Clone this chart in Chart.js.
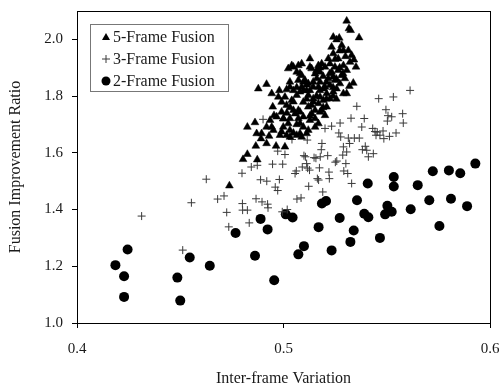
<!DOCTYPE html>
<html>
<head>
<meta charset="utf-8">
<script src="https://cdn.jsdelivr.net/npm/chart.js@4/dist/chart.umd.min.js"></script>
<style>
  html, body { margin: 0; padding: 0; background: #fff; }
  #wrap { width: 502px; height: 388px; }
</style>
</head>
<body>
<div id="wrap"><canvas id="myChart"></canvas></div>
<script>
// series names
const seriesNames = ['5-Frame Fusion', '3-Frame Fusion', '2-Frame Fusion'];

// tick labels
const xTicks = [0.4, 0.5, 0.6];
const yTicks = [1.0, 1.2, 1.4, 1.6, 1.8, 2.0];

// 5-frame fusion (triangles)
const x5 = [.4738,.4825,.4804,.4873,.4866,.4825,.4862,.4870,.4878,.4918,.4891,.4918,.4894,.4943,.4980,.4975,.5015,.4964,.5007,
  .4948,.4954,.4935,.4943,.4967,.4991,.4999,.4991,.5015,.5031,.5048,.5064,.5088,.5112,.5031,.5056,.5072,.5015,.5040,.5064,
  .5048,.5031,.5048,.5040,.5072,.5088,.5023,.5031,.5072,.5088,.5112,.5096,.5120,.5136,.5153,.5177,.5096,.5080,.5128,.5153,
  .5169,.5144,.5120,.5104,.5128,.5136,.5153,.5169,.5185,.5201,.5177,.5193,.5209,.5225,.5241,.5257,.5273,.5217,.5233,.5249,
  .5265,.5281,.5297,.5217,.5225,.5241,.5233,.5241,.5257,.5270,.5282,.5290,.5306,.5317,.5325,.5314,.5330,.5341,.5351,.5366,
  .5338,.5319,.5290,.5265,.5169,.5144,.5120,.5088,.5064,.5080,.5136,.5193,.5209,.5177,.5185,.5201,.4999,.4983,.5023,.4951,
  .4930,.4918,.4991,.5007,.5161,.5249,.5306,.5290,.5241,.5201,.5225,.5177,.5128,.5306,.5096,.5048,.5072,.5031,.5080,.5120,
  .5169,.5153,.5080,.5096,
  .5112,.5128,.5144,.5160,.5176,.5192,.5208,.5224,.5240,.5256,.5272,.5288,.5160,.5176,.5144,.5112,.5096,.5080,.5064,.5048,
  .5032,.5016,.5000,.5064,.5128,.5192,.5208,.5240,.5256,.5272,.5300,.5322,.5250];
const y5 = [1.484,1.595,1.577,1.576,1.624,1.691,1.707,1.668,1.826,1.842,1.650,1.633,1.668,1.809,1.820,1.797,1.823,1.624,1.621,
  1.762,1.732,1.715,1.691,1.727,1.744,1.691,1.674,1.662,1.680,1.670,1.662,1.656,1.668,1.721,1.738,1.750,1.768,1.785,1.803,
  1.820,1.850,1.903,1.908,1.908,1.914,1.897,1.832,1.856,1.832,1.820,1.779,1.762,1.738,1.721,1.744,1.727,1.703,1.715,1.691,
  1.774,1.791,1.803,1.856,1.932,1.897,1.879,1.908,1.914,1.903,1.850,1.826,1.809,1.791,1.815,1.826,1.844,1.862,1.885,1.903,
  1.891,1.873,1.862,1.932,1.914,1.950,1.973,2.008,1.999,2.005,1.979,1.961,2.065,2.038,2.032,1.961,1.944,1.928,1.903,2.006,
  1.846,1.835,1.908,1.932,1.832,1.832,1.844,1.873,1.885,1.815,1.768,1.785,1.762,1.797,1.750,1.732,1.721,1.662,1.703,1.680,
  1.659,1.691,1.779,1.797,1.862,1.856,1.809,1.809,1.868,1.832,1.838,1.885,1.903,1.891,1.820,1.750,1.721,1.656,1.668,1.680,
  1.703,1.750,1.744,1.691,
  1.840,1.820,1.850,1.800,1.820,1.870,1.850,1.880,1.830,1.860,1.900,1.880,1.890,1.900,1.780,1.790,1.850,1.880,1.830,1.780,
  1.760,1.740,1.720,1.700,1.730,1.760,1.790,1.800,1.790,1.960,1.940,1.920,1.930];

// 3-frame fusion (plus signs)
const x3 = [.4313,.4512,.4554,.4626,.4681,.4712,.4725,.4735,.4799,.4801,.4802,.4825,.4834,.4844,.4873,.4867,.4889,.4896,
  .4919,.4923,.4925,.4947,.4960,.4972,.4972,.4980,.4996,.4994,.5007,.5018,.5041,.5056,.5062,.5065,.5085,.5091,.5099,.5106,
  .5112,.5115,.5117,.5122,.5126,.5148,.5157,.5164,.5170,.5174,.5178,.5183,.5186,.5190,.5201,.5214,.5220,.5222,.5233,.5251,
  .5258,.5268,.5274,.5277,.5287,.5290,.5292,.5302,.5306,.5311,.5314,.5320,.5327,.5330,.5343,.5355,.5367,.5379,.5382,.5391,
  .5396,.5403,.5411,.5432,.5435,.5443,.5448,.5454,.5461,.5467,.5482,.5486,.5496,.5503,.5506,.5513,.5524,.5532,.5545,.5577,
  .5580,.5613,.4901];
const y3 = [1.377,1.257,1.424,1.507,1.437,1.448,1.390,1.339,1.528,1.421,1.398,1.398,1.353,1.550,1.556,1.438,1.505,1.427,
  1.500,1.419,1.406,1.560,1.479,1.467,1.606,1.506,1.560,1.392,1.594,1.400,1.647,1.527,1.536,1.437,1.441,1.550,1.590,1.586,
  1.562,1.645,1.546,1.482,1.539,1.583,1.581,1.509,1.504,1.547,1.586,1.611,1.633,1.462,1.686,1.590,1.532,1.509,1.694,1.567,
  1.571,1.670,1.705,1.656,1.592,1.621,1.536,1.562,1.603,1.527,1.652,1.633,1.722,1.492,1.652,1.764,1.652,1.691,1.611,1.721,
  1.623,1.609,1.586,1.686,1.597,1.675,1.662,1.673,1.791,1.662,1.677,1.650,1.752,1.712,1.731,1.658,1.727,1.797,1.670,1.738,
  1.705,1.820,1.718];

// 2-frame fusion (circles)
const x2 = [.4186,.4228,.4228,.4245,.4486,.4500,.4546,.4643,.4768,.4862,.4889,.4923,.4955,.5011,.5044,.5072,.5099,.5170,
  .5186,.5206,.5233,.5272,.5324,.5340,.5356,.5391,.5408,.5411,.5467,.5492,.5503,.5524,.5534,.5534,.5616,.5650,.5706,.5723,
  .5755,.5801,.5811,.5856,.5889,.5929];
const y2 = [1.204,1.165,1.092,1.259,1.160,1.079,1.231,1.202,1.317,1.237,1.367,1.330,1.151,1.383,1.372,1.242,1.271,1.338,
  1.421,1.430,1.256,1.370,1.286,1.326,1.433,1.385,1.492,1.373,1.300,1.383,1.413,1.392,1.515,1.481,1.401,1.486,1.433,1.535,
  1.342,1.538,1.438,1.528,1.412,1.562];

function toPoints(xs, ys){
	let pts = [];
	for(let i = 0; i < xs.length; i++){
		pts.push({x: xs[i], y: ys[i]});
	}
	return pts;
}

const FONT = "'Liberation Serif', 'Times New Roman', serif";
const TXT = '#1a1a1a';

// box around the plot area + the framed legend
const framePlugin = {
	id: 'frame',
	afterDraw(chart){
		const c = chart.ctx;
		const a = chart.chartArea;
		c.save();
		c.strokeStyle = '#000';
		c.lineWidth = 1;
		c.strokeRect(a.left + 0.5, a.top + 0.5, a.right - a.left, a.bottom - a.top);

		// legend
		const bx = 90, by = 24, bw = 138, bh = 67;
		c.fillStyle = '#fff';
		c.fillRect(bx, by, bw, bh);
		c.strokeStyle = '#777';
		c.strokeRect(bx + 0.5, by + 0.5, bw, bh);
		c.font = '16px ' + FONT;
		c.textBaseline = 'middle';
		const rows = [37, 59, 81];
		const mx = 106;
		const ds = chart.data.datasets;
		for(let i = 0; i < rows.length; i++){
			const d = ds[i];
			const my = rows[i];
			c.fillStyle = d.backgroundColor;
			c.strokeStyle = d.borderColor;
			c.lineWidth = 1;
			c.beginPath();
			if(d.pointStyle === 'triangle'){
				c.moveTo(mx, my - 4); c.lineTo(mx + 4, my + 3); c.lineTo(mx - 4, my + 3); c.closePath(); c.fill();
			}else if(d.pointStyle === 'cross'){
				c.moveTo(mx - 4, my); c.lineTo(mx + 4, my); c.moveTo(mx, my - 4); c.lineTo(mx, my + 4); c.stroke();
			}else{
				c.arc(mx, my, 4.5, 0, Math.PI * 2); c.fill();
			}
			c.fillStyle = TXT;
			c.fillText(seriesNames[i], 113, my + 1);
		}
		c.restore();
	}
};

// drop the label overhang padding so the plot box sits where layout.padding says
function noOverhang(s){
	s.paddingTop = 0;
	s.paddingBottom = 0;
	s.paddingLeft = 0;
	s.paddingRight = 0;
}

const ctx = document.getElementById('myChart').getContext('2d');

const myChart = new Chart(ctx, {
	type: 'scatter',
	data: {
		datasets: [{
			label: seriesNames[0],
			data: toPoints(x5, y5),
			pointStyle: 'triangle',
			pointRadius: 4.5,
			backgroundColor: '#000',
			borderColor: '#000',
			borderWidth: 0.5,
			order: 1
		}, {
			label: seriesNames[1],
			data: toPoints(x3, y3),
			pointStyle: 'cross',
			pointRadius: 4,
			backgroundColor: '#3a3a3a',
			borderColor: '#3a3a3a',
			borderWidth: 1,
			order: 2
		}, {
			label: seriesNames[2],
			data: toPoints(x2, y2),
			pointStyle: 'circle',
			pointRadius: 5,
			backgroundColor: '#000',
			borderColor: '#000',
			borderWidth: 0,
			order: 3
		}]
	},
	plugins: [framePlugin],
	options: {
		responsive: true,
		maintainAspectRatio: false,
		animation: false,
		layout: { padding: { top: 11, right: 12, left: 0, bottom: 0 } },
		plugins: {
			legend: { display: false },
			tooltip: { enabled: false }
		},
		scales: {
			x: {
				type: 'linear',
				min: 0.4,
				max: 0.6,
				afterBuildTicks: (s) => { s.ticks = xTicks.map(v => ({value: v})); },
				afterFit: (s) => { s.height = 65; noOverhang(s); },
				grid: { drawOnChartArea: false, tickLength: 5, color: '#000' },
				border: { color: '#000', width: 1 },
				ticks: {
					color: TXT,
					padding: 12,
					font: { family: FONT, size: 15 },
					callback: (v) => Number(v).toFixed(1)
				},
				title: {
					display: true,
					text: 'Inter-frame Variation',
					color: TXT,
					font: { family: FONT, size: 16 },
					padding: { top: 4, bottom: 0 }
				}
			},
			y: {
				type: 'linear',
				min: 1.0,
				max: 2.1,
				afterBuildTicks: (s) => { s.ticks = yTicks.map(v => ({value: v})); },
				afterFit: (s) => { s.width = 77; noOverhang(s); },
				grid: { drawOnChartArea: false, tickLength: 5, color: '#000' },
				border: { color: '#000', width: 1 },
				ticks: {
					color: TXT,
					padding: 9,
					font: { family: FONT, size: 15 },
					callback: (v) => Number(v).toFixed(1)
				},
				title: {
					display: true,
					text: 'Fusion Improvement Ratio',
					color: TXT,
					font: { family: FONT, size: 16 },
					padding: { top: 6, bottom: 0 }
				}
			}
		}
	}
});
</script>
</body>
</html>
